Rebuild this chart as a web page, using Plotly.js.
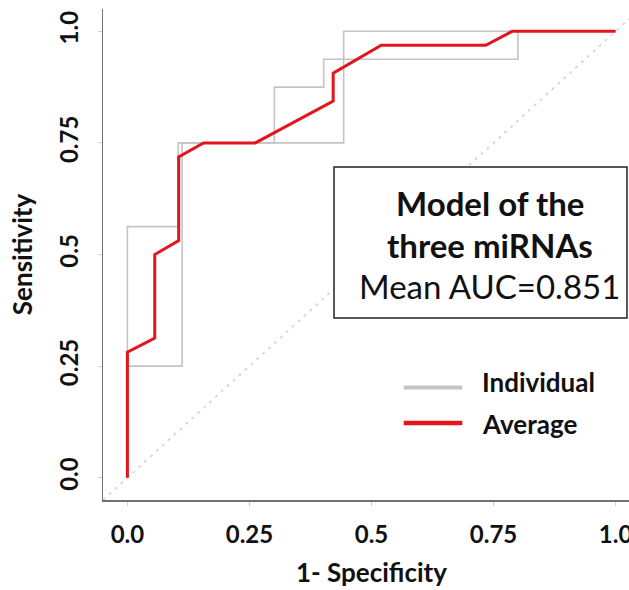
<!DOCTYPE html>
<html>
<head>
<meta charset="utf-8">
<script src="https://cdn.plot.ly/plotly-3.0.1.min.js"></script>
<style>
html,body{margin:0;padding:0;overflow:hidden;background:#fff;}
#chart{width:640px;height:590px;}
</style>
</head>
<body>
<div id="chart"></div>
<script>
// Individual ROC curves (1 - specificity, sensitivity)
const indiv1Fpr = [0, 0, 0.112, 0.112, 0.301, 0.301, 0.402, 0.402, 0.80, 0.80, 1];
const indiv1Tpr = [0, 0.25, 0.25, 0.75, 0.75, 0.875, 0.875, 0.9375, 0.9375, 1, 1];
const indiv2Fpr = [0, 0, 0.104, 0.104, 0.443, 0.443, 1];
const indiv2Tpr = [0, 0.5625, 0.5625, 0.75, 0.75, 1, 1];
// Average ROC curve
const avgFpr = [0, 0, 0.056, 0.056, 0.105, 0.105, 0.156, 0.262, 0.4215, 0.4215, 0.52, 0.734, 0.788, 1];
const avgTpr = [0, 0.28125, 0.3125, 0.5, 0.53125, 0.71875, 0.75, 0.75, 0.84375, 0.90625, 0.96875, 0.96875, 1, 1];
// Chance line
const chanceX = [-0.05, 1.05];
const chanceY = [-0.05, 1.05];
// Ticks and texts
const tickVals = [0, 0.25, 0.5, 0.75, 1];
const tickText = ["0.0", "0.25", "0.5", "0.75", "1.0"];
const boxLines = ["<b>Model of the</b>", "<b>three miRNAs</b>", "Mean AUC=0.851"];
const legendNames = ["Individual", "Average"];

const FONT = "Lato, 'Open Sans', sans-serif";
const GRAY = "#c4c4c4";
const RED = "#e3161d";

const traces = [
  {x: chanceX, y: chanceY, mode: "lines", line: {color: "#d2d2d2", width: 1.6, dash: "3px,5px"}, hoverinfo: "skip", showlegend: false},
  {x: indiv1Fpr, y: indiv1Tpr, mode: "lines", name: legendNames[0], line: {color: GRAY, width: 1.6}, showlegend: false},
  {x: indiv2Fpr, y: indiv2Tpr, mode: "lines", name: legendNames[0], line: {color: GRAY, width: 1.6}, showlegend: false},
  {x: avgFpr, y: avgTpr, mode: "lines", name: legendNames[1], line: {color: RED, width: 3}, showlegend: false}
];

const cx = 0.7427;
const layout = {
  width: 640, height: 590,
  margin: {l: 103, r: 0, t: 9, b: 90},
  paper_bgcolor: "#fff", plot_bgcolor: "#fff",
  font: {family: FONT, color: "#111"},
  xaxis: {
    range: [-0.05, 1.05], tickvals: tickVals, ticktext: tickText,
    showgrid: false, zeroline: false,
    showline: true, linecolor: "#707070", linewidth: 1.5,
    ticks: "outside", ticklen: 4, tickcolor: "#cfcfcf", tickwidth: 1,
    ticklabelstandoff: 9,
    tickfont: {family: FONT, size: 24, color: "#111", weight: "bold"},
    title: {text: "<b>1- Specificity</b>", font: {family: FONT, size: 26, color: "#111"}, standoff: 16}
  },
  yaxis: {
    range: [-0.05, 1.05], tickvals: tickVals, ticktext: tickText,
    showgrid: false, zeroline: false,
    showline: true, linecolor: "#707070", linewidth: 1.5,
    ticks: "outside", ticklen: 4, tickcolor: "#cfcfcf", tickwidth: 1,
    tickangle: -90, ticklabelstandoff: 10,
    tickfont: {family: FONT, size: 24, color: "#111", weight: "bold"},
    title: {text: "<b>Sensitivity</b>", font: {family: FONT, size: 26, color: "#111"}, standoff: 14}
  },
  shapes: [
    {type: "rect", xref: "x", yref: "y", x0: 0.4232, x1: 1.0233, y0: 0.3577, y1: 0.696,
     line: {color: "#222", width: 1.5}, fillcolor: "#fff", layer: "above"},
    {type: "line", xref: "x", yref: "y", x0: 0.566, x1: 0.686, y0: 0.202, y1: 0.202,
     line: {color: GRAY, width: 4}},
    {type: "line", xref: "x", yref: "y", x0: 0.566, x1: 0.686, y0: 0.1226, y1: 0.1226,
     line: {color: RED, width: 4.5}}
  ],
  annotations: [
    {x: cx, y: 0.6165, xref: "x", yref: "y", text: boxLines[0], showarrow: false, xanchor: "center", yanchor: "middle", font: {family: FONT, size: 33, color: "#111"}},
    {x: cx, y: 0.521, xref: "x", yref: "y", text: boxLines[1], showarrow: false, xanchor: "center", yanchor: "middle", font: {family: FONT, size: 33, color: "#111"}},
    {x: cx, y: 0.4288, xref: "x", yref: "y", text: boxLines[2], showarrow: false, xanchor: "center", yanchor: "middle", font: {family: FONT, size: 33, color: "#111"}},
    {x: 0.7222, y: 0.2137, xref: "x", yref: "y", text: "<b>" + legendNames[0] + "</b>", showarrow: false, xanchor: "left", yanchor: "middle", font: {family: FONT, size: 26, color: "#111"}},
    {x: 0.7222, y: 0.1203, xref: "x", yref: "y", text: "<b>" + legendNames[1] + "</b>", showarrow: false, xanchor: "left", yanchor: "middle", font: {family: FONT, size: 26, color: "#111"}}
  ]
};

Plotly.newPlot("chart", traces, layout, {displayModeBar: false, staticPlot: true});
</script>
</body>
</html>
